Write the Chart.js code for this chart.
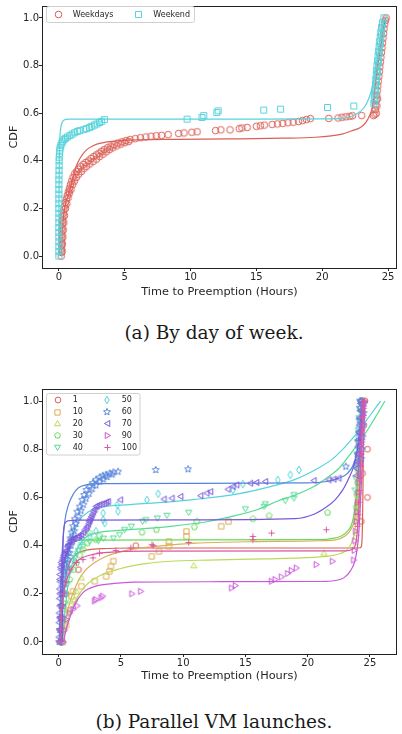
<!DOCTYPE html>
<html><head><meta charset="utf-8">
<script src="https://cdn.jsdelivr.net/npm/chart.js@4.4.0/dist/chart.umd.min.js"></script>
<style>
html,body{margin:0;padding:0;background:#fff;overflow:hidden;width:402px;height:734px;}
.box{position:absolute;left:0;width:402px;}
#c1box{top:0;height:300px;}
#c2box{top:380px;height:304px;}
.cap{position:absolute;left:26px;width:376px;text-align:center;font-family:'DejaVu Serif';font-size:18.5px;line-height:22px;color:#1a1a1a;}
</style></head><body>
<div class="box" id="c1box"><canvas id="c1"></canvas></div>
<div class="cap" style="top:322px">(a) By day of week.</div>
<div class="box" id="c2box"><canvas id="c2"></canvas></div>
<div class="cap" style="top:711px">(b) Parallel VM launches.</div>
<script>
// ---------- data ----------
const xTicks = [0, 5, 10, 15, 20, 25];
const yTicks = [0, 0.2, 0.4, 0.6, 0.8, 1.0];
const xTitle = 'Time to Preemption (Hours)';
const yTitle = 'CDF';

const dayLabels = ['Weekdays', 'Weekend'];
const weekdaysPts = [[0.18,0.0],[0.19,0.015],[0.2,0.03],[0.2,0.045],[0.21,0.06],[0.22,0.075],[0.23,0.09],[0.24,0.105],[0.25,0.12],[0.27,0.135],[0.29,0.15],[0.31,0.165],[0.34,0.18],[0.38,0.195],[0.43,0.21],[0.5,0.225],[0.57,0.24],[0.64,0.255],[0.72,0.27],[0.8,0.285],[0.88,0.3],[0.97,0.315],[1.07,0.33],[1.2,0.345],[1.35,0.355],[1.5,0.365],[1.65,0.375],[1.85,0.385],[2.05,0.393],[2.25,0.4],[2.45,0.41],[2.65,0.418],[2.85,0.425],[3.05,0.432],[3.25,0.44],[3.45,0.447],[3.7,0.455],[3.95,0.462],[4.2,0.468],[4.5,0.475],[4.8,0.48],[5.1,0.485],[5.4,0.489],[5.8,0.493],[6.2,0.497],[6.6,0.5],[7.0,0.503],[7.4,0.505],[7.8,0.507],[8.3,0.51],[9.1,0.515],[9.5,0.517],[10.1,0.52],[10.5,0.522],[11.9,0.527],[12.3,0.53],[13.0,0.53],[13.7,0.535],[13.9,0.538],[14.3,0.54],[15.0,0.545],[15.3,0.547],[15.6,0.55],[16.2,0.553],[16.6,0.555],[17.0,0.557],[17.4,0.56],[17.8,0.562],[18.2,0.565],[18.5,0.569],[18.8,0.573],[19.1,0.577],[20.5,0.578],[21.2,0.58],[21.5,0.583],[21.8,0.585],[22.1,0.587],[22.3,0.589],[23.0,0.59],[23.9,0.59],[24.0,0.595],[24.03,0.615],[24.06,0.635],[24.1,0.655],[24.14,0.675],[24.18,0.695],[24.22,0.715],[24.26,0.735],[24.3,0.755],[24.34,0.775],[24.38,0.795],[24.42,0.815],[24.46,0.835],[24.5,0.855],[24.54,0.875],[24.58,0.895],[24.62,0.915],[24.66,0.935],[24.7,0.955],[24.75,0.975],[24.8,0.99],[24.85,1.0],
  [0.25,0.02],[0.27,0.05],[0.3,0.08],[0.33,0.11],[0.37,0.14],[0.42,0.17],[0.5,0.2],[0.6,0.22],[0.7,0.245],[0.8,0.265],[0.92,0.28],[1.05,0.3],[1.18,0.315],[1.32,0.33],[1.5,0.343],[1.7,0.355],[1.9,0.367],[2.1,0.377],[2.35,0.387],[2.6,0.397],[2.85,0.407],[3.1,0.418],[3.35,0.428],[3.6,0.438],[3.85,0.447],[4.1,0.455],[4.4,0.463],[4.7,0.47],[5.0,0.476],[5.3,0.481],[24.1,0.6],[24.15,0.63],[24.2,0.66]];
const weekendPts = [[0.0,0.0],[0.0,0.02],[0.0,0.04],[0.0,0.06],[0.0,0.08],[0.0,0.1],[0.0,0.12],[0.0,0.14],[0.0,0.16],[0.0,0.18],[0.0,0.2],[0.0,0.22],[0.0,0.24],[0.0,0.26],[0.0,0.28],[0.0,0.3],[0.0,0.32],[0.01,0.34],[0.01,0.36],[0.02,0.38],[0.02,0.4],[0.03,0.415],[0.05,0.43],[0.07,0.445],[0.1,0.455],[0.15,0.465],[0.22,0.475],[0.3,0.483],[0.4,0.49],[0.5,0.495],[0.65,0.5],[0.83,0.506],[1.0,0.512],[1.2,0.518],[1.4,0.523],[1.58,0.527],[1.9,0.531],[2.1,0.535],[2.33,0.54],[2.5,0.545],[2.7,0.55],[2.9,0.555],[3.09,0.561],[3.25,0.566],[3.46,0.573],[9.74,0.575],[10.87,0.582],[11.0,0.59],[12.0,0.603],[12.1,0.61],[15.56,0.613],[16.84,0.617],[20.4,0.624],[22.4,0.63],[23.92,0.64],[23.95,0.66],[23.98,0.68],[24.01,0.7],[24.04,0.72],[24.07,0.74],[24.1,0.76],[24.13,0.78],[24.16,0.8],[24.2,0.82],[24.24,0.84],[24.28,0.86],[24.32,0.88],[24.36,0.9],[24.4,0.92],[24.45,0.94],[24.5,0.96],[24.58,0.98],[24.68,1.0],[24.0,0.65],[24.05,0.69],[24.12,0.73],[24.2,0.77],[24.28,0.81],[24.35,0.85],[24.42,0.89],[24.5,0.93],[24.58,0.97]];
const weekdaysFit = [[0.18,0],[0.22,0.06],[0.28,0.12],[0.38,0.18],[0.55,0.23],[0.8,0.27],[1.08,0.33],[1.3,0.375],[1.6,0.41],[2.08,0.445],[2.6,0.463],[3.09,0.473],[4.3,0.483],[6,0.488],[9,0.49],[13,0.492],[17,0.495],[19.5,0.499],[20.7,0.505],[21.5,0.512],[22.2,0.525],[22.9,0.54],[23.3,0.56],[23.6,0.59],[23.8,0.624],[24.0,0.7],[24.2,0.79],[24.45,0.88],[24.7,0.97],[24.8,1.0]];
const weekendFit = [[-0.02,0],[0.0,0.15],[0.02,0.3],[0.04,0.42],[0.08,0.5],[0.15,0.54],[0.25,0.562],[0.4,0.571],[0.7,0.575],[5,0.575],[15,0.575],[20,0.576],[21.5,0.578],[22.2,0.586],[22.7,0.6],[23.2,0.625],[23.6,0.67],[23.9,0.73],[24.1,0.8],[24.3,0.87],[24.5,0.94],[24.7,1.0]];

const launchLabels = ['1', '10', '20', '30', '40', '50', '60', '70', '90', '100'];
const pts1 = [[0.3,0.0],[0.35,0.1],[0.6,0.2],[1.6,0.3],[6.2,0.4],[24.3,0.5],[24.8,0.6],[24.4,0.7],[24.8,0.8],[24.5,0.9],[24.6,1.0]];
const pts10 = [[0.3,0.0],[0.6,0.07],[0.85,0.13],[1.04,0.19],[1.16,0.21],[1.83,0.231],[2.9,0.252],[3.82,0.272],[4.08,0.293],[4.2,0.314],[4.4,0.335],[7.48,0.355],[8.06,0.376],[8.86,0.397],[8.86,0.417],[10.27,0.438],[10.27,0.459],[13.06,0.48],[13.64,0.5],[23.95,0.52],[24.0,0.57],[24.05,0.62],[24.1,0.67],[24.15,0.72],[24.2,0.77],[24.25,0.82],[24.3,0.87],[24.35,0.92],[24.4,0.96],[24.45,1.0]];
const pts20 = [[0.35,0.0],[0.4,0.052],[0.55,0.09],[0.64,0.135],[0.9,0.169],[1.3,0.176],[1.45,0.21],[1.83,0.266],[10.85,0.317],[21.3,0.369],[23.85,0.4],[23.9,0.45],[23.95,0.5],[24.0,0.55],[24.05,0.6],[24.1,0.65],[24.15,0.7],[24.2,0.75],[24.25,0.8],[24.3,0.85],[24.35,0.9],[24.4,0.95],[24.45,1.0]];
const pts30 = [[0.2,0.0],[0.3,0.1],[0.55,0.2],[0.9,0.259],[1.2,0.3],[1.43,0.328],[1.7,0.36],[1.96,0.383],[2.3,0.41],[3.0,0.424],[3.3,0.44],[2.5,0.452],[6.7,0.455],[7.85,0.466],[10.9,0.477],[11.1,0.5],[15.6,0.511],[16.9,0.524],[21.6,0.537],[23.9,0.56],[23.95,0.61],[24.0,0.66],[24.05,0.71],[24.1,0.76],[24.15,0.81],[24.2,0.86],[24.25,0.91],[24.3,0.96],[24.35,1.0]];
const pts40 = [[0.2,0.0],[0.3,0.08],[0.5,0.16],[0.7,0.24],[1.0,0.3],[1.3,0.35],[1.6,0.38],[1.96,0.397],[2.5,0.417],[3.2,0.42],[3.6,0.43],[4.4,0.431],[4.9,0.445],[5.3,0.466],[5.84,0.48],[6.74,0.5],[7.0,0.507],[7.93,0.514],[8.7,0.525],[10.45,0.537],[15.0,0.552],[16.5,0.562],[16.6,0.573],[18.2,0.586],[18.9,0.597],[18.9,0.611],[23.8,0.63],[23.85,0.68],[23.9,0.73],[23.95,0.78],[24.0,0.83],[24.05,0.88],[24.1,0.93],[24.15,0.97],[24.2,1.0]];
const pts50 = [[0.25,0.0],[0.4,0.1],[0.6,0.2],[0.9,0.3],[1.2,0.34],[1.43,0.369],[1.7,0.4],[1.96,0.424],[2.5,0.438],[3.0,0.46],[3.7,0.493],[3.58,0.507],[3.58,0.535],[4.78,0.542],[4.72,0.569],[7.1,0.59],[8.0,0.615],[14.0,0.631],[14.8,0.655],[17.6,0.673],[18.6,0.694],[19.3,0.714],[23.9,0.73],[23.95,0.77],[24.0,0.81],[24.05,0.85],[24.1,0.89],[24.15,0.93],[24.2,0.97],[24.25,1.0]];
const pts60 = [[0.05,0.0],[0.1,0.05],[0.15,0.1],[0.2,0.15],[0.25,0.2],[0.3,0.23],[0.37,0.259],[0.45,0.29],[0.55,0.32],[0.65,0.345],[0.76,0.369],[0.85,0.4],[0.95,0.43],[1.05,0.455],[1.16,0.48],[1.3,0.51],[1.5,0.54],[1.7,0.562],[1.9,0.59],[2.05,0.61],[2.23,0.631],[2.5,0.645],[2.75,0.66],[3.0,0.673],[3.3,0.683],[3.55,0.69],[3.8,0.694],[4.1,0.7],[4.4,0.704],[4.78,0.707],[7.8,0.714],[10.4,0.717],[23.06,0.728],[24.0,0.74],[24.3,0.76],[24.05,0.78],[24.35,0.8],[24.08,0.83],[24.4,0.85],[24.1,0.87],[24.45,0.9],[24.15,0.92],[24.5,0.95],[24.2,0.97],[24.5,0.99],[24.22,1.0],
  [0.15,0.05],[0.22,0.1],[0.3,0.15],[0.38,0.2],[0.45,0.24],[0.55,0.28],[0.65,0.31],[0.75,0.34],[0.88,0.37],[1.0,0.4],[1.12,0.43],[1.25,0.46],[1.4,0.49],[1.6,0.52],[1.8,0.545],[2.0,0.57],[2.2,0.595],[2.45,0.615],[2.7,0.635],[3.0,0.65],[3.3,0.665],[3.6,0.675],[3.9,0.685],[4.3,0.695]];
const pts70 = [[0.05,0.0],[0.07,0.05],[0.08,0.1],[0.09,0.15],[0.1,0.2],[0.12,0.25],[0.1,0.28],[0.2,0.3],[0.15,0.31],[0.25,0.32],[0.3,0.34],[0.35,0.35],[0.5,0.369],[0.6,0.38],[0.7,0.395],[0.8,0.405],[0.9,0.417],[1.1,0.42],[1.3,0.43],[1.5,0.435],[1.7,0.438],[2.0,0.455],[2.23,0.473],[2.4,0.49],[2.5,0.505],[2.63,0.521],[2.8,0.54],[3.0,0.562],[3.3,0.57],[3.7,0.576],[3.98,0.583],[4.96,0.59],[8.46,0.593],[9.1,0.597],[9.8,0.604],[11.4,0.607],[11.9,0.618],[12.2,0.624],[13.6,0.634],[14.0,0.645],[14.3,0.652],[15.4,0.659],[15.9,0.662],[16.6,0.666],[20.5,0.67],[21.7,0.673],[22.1,0.676],[22.5,0.68],[23.9,0.69],[23.93,0.72],[23.96,0.75],[24.0,0.78],[24.03,0.81],[24.06,0.84],[24.1,0.87],[24.13,0.9],[24.16,0.93],[24.2,0.96],[24.23,0.99],[24.25,1.0],
  [0.02,0.02],[0.03,0.08],[0.04,0.12],[0.05,0.18],[0.06,0.22],[0.08,0.26],[0.2,0.33],[0.4,0.36],[0.55,0.375],[0.75,0.4],[1.0,0.425],[1.2,0.43],[1.6,0.44],[1.85,0.445],[2.1,0.465],[2.3,0.48],[2.45,0.5],[2.55,0.512],[2.7,0.53],[2.9,0.55],[3.1,0.565],[3.5,0.573],[3.85,0.58]];
const pts90 = [[0.4,0.0],[0.5,0.05],[0.64,0.093],[0.9,0.12],[1.16,0.135],[1.5,0.15],[2.9,0.17],[3.0,0.176],[3.42,0.183],[3.55,0.19],[5.9,0.2],[6.6,0.21],[13.9,0.224],[14.2,0.234],[17.1,0.252],[17.4,0.259],[17.9,0.27],[18.4,0.284],[18.7,0.297],[19.1,0.307],[20.7,0.321],[22.0,0.335],[23.7,0.34],[23.75,0.38],[23.8,0.42],[23.85,0.46],[23.9,0.5],[23.95,0.54],[24.0,0.58],[24.05,0.62],[24.1,0.66],[24.15,0.7],[24.2,0.74],[24.25,0.78],[24.3,0.82],[24.35,0.86],[24.4,0.9],[24.45,0.94],[24.5,0.98],[24.55,1.0]];
const pts100 = [[0.1,0.0],[0.15,0.05],[0.2,0.1],[0.3,0.15],[0.45,0.2],[0.6,0.25],[0.9,0.3],[1.43,0.33],[1.96,0.342],[2.76,0.349],[3.29,0.369],[4.6,0.38],[5.8,0.39],[7.6,0.4],[7.5,0.404],[10.45,0.413],[15.6,0.424],[15.6,0.438],[17.1,0.452],[21.5,0.466],[24.0,0.48],[24.05,0.53],[24.1,0.58],[24.15,0.63],[24.2,0.68],[24.25,0.73],[24.3,0.78],[24.35,0.83],[24.4,0.88],[24.45,0.93],[24.5,0.97],[24.55,1.0]];

const fit1 = [[0.2,0],[0.28,0.1],[0.4,0.2],[0.6,0.28],[0.9,0.33],[1.3,0.36],[2,0.378],[3.5,0.387],[6,0.39],[24.1,0.39],[24.3,0.395],[24.38,0.45],[24.43,0.6],[24.47,0.8],[24.5,1.0]];
const fit10 = [[0.3,0],[0.6,0.1],[1.0,0.18],[1.6,0.255],[2.2,0.3],[2.9,0.33],[3.8,0.355],[4.8,0.372],[6,0.385],[8,0.398],[11,0.41],[15,0.416],[21,0.42],[22.3,0.425],[23,0.44],[23.5,0.47],[23.85,0.53],[24.05,0.65],[24.2,0.8],[24.35,1.0]];
const fit20 = [[0.35,0],[0.6,0.06],[1.0,0.13],[1.5,0.185],[2.2,0.235],[3.3,0.275],[5,0.305],[7,0.325],[9,0.335],[12,0.34],[16.6,0.345],[20,0.35],[21.8,0.357],[22.7,0.368],[23.3,0.39],[23.7,0.44],[24.0,0.55],[24.2,0.7],[24.35,0.85],[24.5,1.0]];
const fit30 = [[0.15,0],[0.25,0.15],[0.4,0.28],[0.6,0.36],[0.9,0.4],[1.3,0.418],[2,0.423],[10,0.424],[21,0.425],[22,0.43],[22.7,0.44],[23.2,0.46],[23.6,0.5],[23.9,0.6],[24.1,0.75],[24.3,1.0]];
const fit40 = [[0.3,0],[0.5,0.12],[0.8,0.25],[1.3,0.36],[2.1,0.43],[3,0.452],[5.7,0.466],[9,0.48],[12,0.5],[14,0.522],[16,0.55],[17.6,0.585],[19,0.61],[20.5,0.645],[21.5,0.68],[22.5,0.72],[23.5,0.785],[24.5,0.855],[25.4,0.93],[26.2,1.0]];
const fit50 = [[0.2,0],[0.35,0.15],[0.6,0.3],[1.0,0.42],[1.6,0.5],[2.4,0.54],[3.45,0.56],[5.7,0.57],[8,0.578],[11,0.592],[14.4,0.615],[17,0.645],[19,0.675],[20.8,0.72],[22,0.76],[23,0.81],[24,0.87],[25,0.94],[25.85,1.0]];
const fit60 = [[0.05,0],[0.15,0.2],[0.3,0.38],[0.5,0.5],[0.8,0.57],[1.2,0.615],[1.6,0.64],[2.2,0.652],[3.5,0.657],[10,0.658],[20,0.66],[21.5,0.666],[22.5,0.68],[23.2,0.7],[23.7,0.74],[24.0,0.8],[24.2,0.9],[24.35,1.0]];
const fit70 = [[0.3,0],[0.33,0.2],[0.36,0.4],[0.42,0.47],[0.55,0.495],[0.8,0.503],[1.5,0.506],[10,0.507],[19,0.512],[20.5,0.53],[21.5,0.56],[22.2,0.59],[22.8,0.63],[23.3,0.68],[23.7,0.73],[24.0,0.8],[24.3,0.9],[24.6,1.0]];
const fit90 = [[0.4,0],[0.6,0.05],[0.9,0.1],[1.3,0.155],[1.96,0.205],[3,0.232],[4.5,0.243],[6,0.248],[12,0.25],[21,0.251],[22.2,0.255],[22.9,0.266],[23.4,0.293],[23.85,0.35],[24.1,0.45],[24.3,0.65],[24.5,0.85],[24.6,1.0]];
const fit100 = [[0.1,0],[0.2,0.1],[0.35,0.18],[0.6,0.25],[1.0,0.3],[1.6,0.34],[2.5,0.36],[4,0.372],[7,0.377],[23,0.378],[23.6,0.385],[23.9,0.42],[24.1,0.55],[24.3,0.8],[24.45,1.0]];

const launchPts = [pts1, pts10, pts20, pts30, pts40, pts50, pts60, pts70, pts90, pts100];
const launchFits = [fit1, fit10, fit20, fit30, fit40, fit50, fit60, fit70, fit90, fit100];

// ---------- styles ----------
const dayColors = ['#db5f57', '#57d3db'];
const launchColors = ['#db5f57','#dbae57','#b9db57','#69db57','#57db94','#57d3db','#5784db','#7957db','#c957db','#db579e'];
const launchShapes = ['o','s','^','p','v','d','*','<','>','+'];
const textColor = '#262626';
Chart.defaults.font.family = "'DejaVu Sans'";
Chart.defaults.color = textColor;

function poly(g, cx, cy, r, n, startDeg) {
  for (let i = 0; i < n; i++) {
    const a = (startDeg + i * 360 / n) * Math.PI / 180;
    const px = cx + r * Math.cos(a), py = cy + r * Math.sin(a);
    if (i === 0) g.moveTo(px, py); else g.lineTo(px, py);
  }
  g.closePath();
}
function marker(shape, color, s) {
  const size = Math.ceil(2 * s + 4);
  const cv = document.createElement('canvas');
  cv.width = size; cv.height = size;
  const g = cv.getContext('2d');
  const c = size / 2;
  g.strokeStyle = color; g.lineWidth = 1;
  g.beginPath();
  switch (shape) {
    case 'o': g.arc(c, c, s, 0, Math.PI * 2); break;
    case 's': g.rect(c - s * 0.85, c - s * 0.85, s * 1.7, s * 1.7); break;
    case '^': poly(g, c, c + s * 0.15, s, 3, -90); break;
    case 'v': poly(g, c, c - s * 0.15, s, 3, 90); break;
    case '<': poly(g, c + s * 0.15, c, s, 3, 180); break;
    case '>': poly(g, c - s * 0.15, c, s, 3, 0); break;
    case 'p': poly(g, c, c, s, 5, -90); break;
    case 'd': g.moveTo(c, c - s); g.lineTo(c + s * 0.6, c); g.lineTo(c, c + s); g.lineTo(c - s * 0.6, c); g.closePath(); break;
    case '*':
      for (let i = 0; i < 10; i++) {
        const r = i % 2 === 0 ? s : s * 0.45;
        const a = (-90 + i * 36) * Math.PI / 180;
        const px = c + r * Math.cos(a), py = c + r * Math.sin(a);
        if (i === 0) g.moveTo(px, py); else g.lineTo(px, py);
      }
      g.closePath(); break;
    case '+': g.moveTo(c - s, c); g.lineTo(c + s, c); g.moveTo(c, c - s); g.lineTo(c, c + s); break;
  }
  g.stroke();
  return cv;
}
const toXY = a => a.map(p => ({x: p[0], y: p[1]}));

function axes(xmin, xmax, xh) {
  return {
    x: {
      type: 'linear', min: xmin, max: xmax,
      afterBuildTicks: s => { s.ticks = xTicks.map(v => ({value: v})); },
      afterFit: s => { s.height = xh; },
      ticks: {callback: v => String(v), font: {size: 10}, padding: 0, maxRotation: 0, autoSkip: false, color: textColor},
      grid: {display: true, drawOnChartArea: false, drawTicks: true, tickLength: 3, color: textColor},
      border: {display: false},
      title: {display: true, text: xTitle, font: {size: 11.3}, color: textColor, padding: {top: 0, bottom: 1.4}}
    },
    y: {
      type: 'linear', min: -0.05, max: 1.05,
      afterBuildTicks: s => { s.ticks = yTicks.map(v => ({value: v})); },
      afterFit: s => { s.width = 42; },
      ticks: {callback: v => Number(v).toFixed(1), font: {size: 10}, padding: 0, autoSkip: false, color: textColor},
      grid: {display: true, drawOnChartArea: false, drawTicks: true, tickLength: 3, color: textColor},
      border: {display: false},
      title: {display: true, text: yTitle, font: {size: 11.3}, color: textColor, padding: {top: 7, bottom: 0}}
    }
  };
}
const frame = {id: 'frame', afterDatasetsDraw(chart) {
  const {ctx, chartArea: a} = chart;
  ctx.save(); ctx.strokeStyle = '#222'; ctx.lineWidth = 1;
  ctx.strokeRect(Math.round(a.left) + 0.5, Math.round(a.top) + 0.5, Math.round(a.right - a.left) - 1, Math.round(a.bottom - a.top));
  ctx.restore();
}};
function legendPlugin(id, box, items) {
  return {id, afterDraw(chart) {
    const ctx = chart.ctx; ctx.save();
    ctx.beginPath();
    if (ctx.roundRect) ctx.roundRect(box.x, box.y, box.w, box.h, 2); else ctx.rect(box.x, box.y, box.w, box.h);
    ctx.fillStyle = 'rgba(255,255,255,0.8)'; ctx.fill();
    ctx.strokeStyle = '#d0d0d0'; ctx.lineWidth = 1; ctx.stroke();
    ctx.font = "8px 'DejaVu Sans'"; ctx.fillStyle = textColor; ctx.textBaseline = 'middle';
    items.forEach(it => {
      ctx.drawImage(it.img, Math.round(it.mx - it.img.width / 2), Math.round(it.y - it.img.height / 2));
      ctx.fillText(it.label, it.tx, it.y);
    });
    ctx.restore();
  }};
}
function build(pointSets, fitSets, colors, imgs) {
  const ds = [];
  pointSets.forEach((p, i) => {
    ds.push({type: 'scatter', data: toXY(p), pointStyle: imgs[i], pointRadius: 3, showLine: false});
    ds.push({type: 'line', data: toXY(fitSets[i]), borderColor: colors[i], borderWidth: 1.2, pointRadius: 0, fill: false, cubicInterpolationMode: 'monotone'});
  });
  ds.forEach((d, k) => { d.order = ds.length - k; });
  return ds;
}
const common = {responsive: true, maintainAspectRatio: false, animation: false, devicePixelRatio: 1, events: [],
  plugins: {legend: {display: false}, tooltip: {enabled: false}}};

// ---------- chart 1 ----------
const dayImgs = [marker('o', dayColors[0], 3.3), marker('s', dayColors[1], 3.5)];
new Chart(document.getElementById('c1'), {
  type: 'scatter',
  data: {datasets: build([weekdaysPts, weekendPts], [weekdaysFit, weekendFit], dayColors, dayImgs)},
  options: Object.assign({}, common, {layout: {padding: {top: 3, right: 2, left: 0, bottom: 0}}, scales: axes(-1.28, 25.68, 32)}),
  plugins: [frame, legendPlugin('leg1', {x: 46.5, y: 6.5, w: 148, h: 16}, [
    {img: dayImgs[0], mx: 58.3, tx: 72.7, y: 14.5, label: dayLabels[0]},
    {img: dayImgs[1], mx: 138.3, tx: 153.3, y: 14.5, label: dayLabels[1]}])]
});

// ---------- chart 2 ----------
const shapeSize = {o: 2.9, s: 3.1, '^': 3.5, p: 3.1, v: 3.5, d: 3.8, '*': 3.6, '<': 3.5, '>': 3.5, '+': 3.1};
const launchImgs = launchShapes.map((s, i) => marker(s, launchColors[i], shapeSize[s]));
const rowsY = [20, 32, 43.8, 55.8, 67.8];
const legItems = launchLabels.map((l, i) => ({img: launchImgs[i], label: l,
  mx: i < 5 ? 57.7 : 107.3, tx: i < 5 ? 72.7 : 121.7, y: rowsY[i % 5]}));
new Chart(document.getElementById('c2'), {
  type: 'scatter',
  data: {datasets: build(launchPts, launchFits, launchColors, launchImgs)},
  options: Object.assign({}, common, {layout: {padding: {top: 9, right: 2, left: 0, bottom: 0}}, scales: axes(-1.33, 27.17, 30)}),
  plugins: [frame, legendPlugin('leg2', {x: 46.5, y: 13.5, w: 93.5, h: 61.5}, legItems)]
});
</script>
</body></html>
